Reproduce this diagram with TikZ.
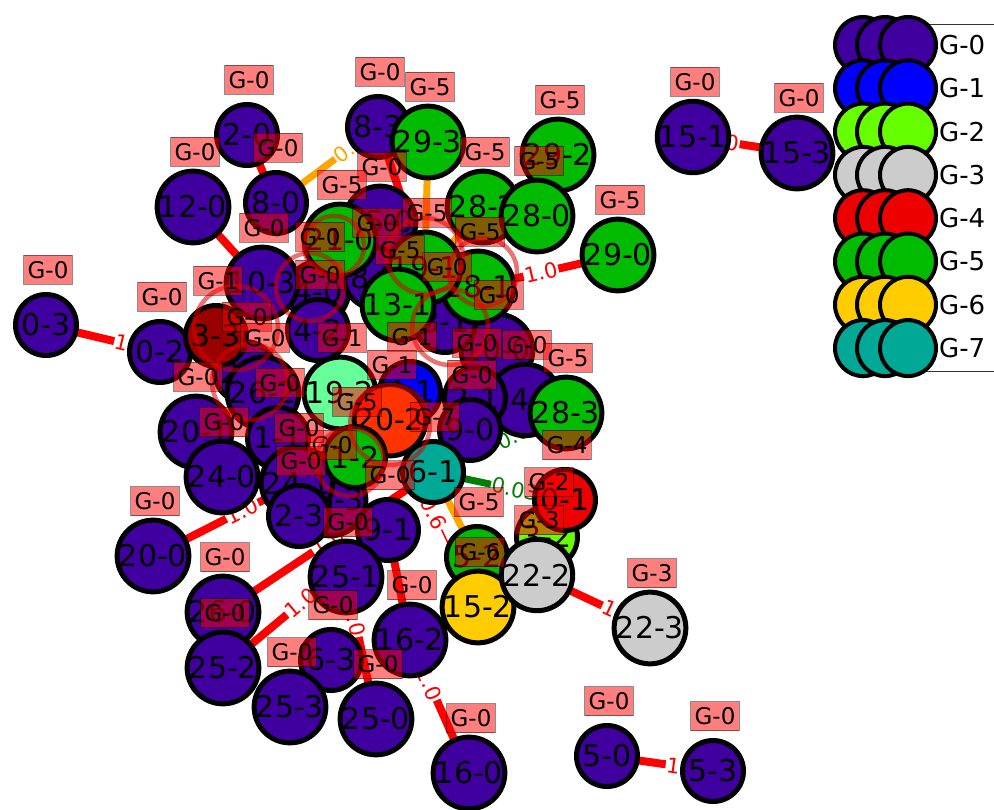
\documentclass[tikz,border=0pt]{standalone}
\usepackage{fontspec}
\setmainfont{DejaVu Sans}
\pgfdeclarelayer{edgelayer}
\pgfdeclarelayer{looplayer}
\pgfdeclarelayer{taglayer}
\pgfsetlayers{edgelayer,main,looplayer,taglayer}

\definecolor{gzero}{HTML}{4000A0}
\definecolor{gone}{HTML}{0000FF}
\definecolor{gtwo}{HTML}{66FF00}
\definecolor{gthree}{HTML}{CCCCCC}
\definecolor{gfour}{HTML}{EE0000}
\definecolor{gfive}{HTML}{00BB00}
\definecolor{gsix}{HTML}{FFCC00}
\definecolor{gseven}{HTML}{00A896}
\definecolor{dkred}{HTML}{990000}
\definecolor{lgreen}{HTML}{66FF99}
\definecolor{ored}{HTML}{FF3300}
\definecolor{eorange}{HTML}{FFA500}
\definecolor{egreen}{HTML}{008000}

\tikzset{
  gnode/.style={circle, draw=black, line width=5pt, minimum size=61pt,
    inner sep=0pt, font=\fontsize{30}{30}\selectfont},
  gtag/.style={fill=red, fill opacity=0.5, draw=black, draw opacity=0.45,
    line width=1pt, text opacity=1, inner xsep=4pt, inner ysep=0pt,
    minimum height=29pt, font=\fontsize{23}{23}\selectfont},
  redge/.style={draw=red, line width=8pt},
  thinedge/.style={draw=red, line width=1.5pt},
  oedge/.style={draw=eorange, line width=7pt},
  gedge/.style={draw=egreen, line width=7pt},
  elab/.style={fill=white, inner sep=1pt, sloped, font=\fontsize{21}{21}\selectfont},
  ring/.style={draw=red!85!black, draw opacity=0.55, line width=4.5pt},
  legmark/.style={fill=#1, draw=black, line width=4pt},
}

% name / x / y / fill / text / group
\def\nodelist{
  c0x/497/350/gzero/10-0/G-0,
  c241x/525/400/gzero/14-1/G-0,
  c22x/475/398/gzero/2-1/G-0,
  c90/470/430/gzero/9-0/G-0,
  c81/445/322/gzero/8-1/G-0,
  c281/478/287/gfive/28-1/G-5,
  c15/380/222/gzero/15-0/G-0,
  c4a/318/292/gzero/4-0/G-0,
  c4b/318/330/gzero/4-2/G-0,
  c82/375/278/gzero/8-2/G-0,
  c1g/340/240/gfive/21-0/G-5,
  c19g/425/268/gfive/19-1/G-5,
  c13/398/305/gfive/13-1/G-5,
  c103/262/283/gzero/10-3/G-0,
  n02/160/352/gzero/0-2/G-0,
  c2a/245/372/gzero/2-2/G-0,
  c33/216/336/dkred/3-3/G-1,
  c26a/263/393/gzero/26-2/G-0,
  c41/410/392/gone/4-1/G-1,
  c201/196/432/gzero/20-1/G-0,
  c11/278/438/gzero/1-1/G-0,
  c192/340/393/lgreen/19-2/G-1,
  c26r/390/420/ored/20-2/G-1,
  c26b/330/500/gzero/26-3/G-0,
  c241/297/483/gzero/24-1/G-0,
  c240/222/477/gzero/24-0/G-0,
  c21g/355/457/gfive/1-2/G-5,
  c61/433/472/gseven/6-1/G-7,
  c23/299/516/gzero/2-3/G-0,
  c91/388/530/gzero/9-1/G-0,
  c251/346/577/gzero/25-1/G-0,
  c162/410/640/gzero/16-2/G-0,
  c260/223/612/gzero/26-0/G-0,
  c252/223/668/gzero/25-2/G-0,
  c63/331/660/gzero/6-3/G-0,
  c253/290/707/gzero/25-3/G-0,
  c250/376/719/gzero/25-0/G-0,
  c160/469/773/gzero/16-0/G-0,
  c200/153/556/gzero/20-0/G-0,
  c52/477/557/gfive/5-2/G-5,
  c152/478/607/gsix/15-2/G-6,
  c32/547/537/gtwo/3-2/G-2,
  c222/537/575/gthree/22-2/G-3,
  c01/565/500/gfour/0-1/G-4,
  n283/566/413/gfive/28-3/G-5,
  n223/650/628/gthree/22-3/G-3,
  n50/607/756/gzero/5-0/G-0,
  n53/713/771/gzero/5-3/G-0,
  n151/693/137/gzero/15-1/G-0,
  n153/797/153/gzero/15-3/G-0,
  n290/618/255/gfive/29-0/G-5,
  n282/483/207/gfive/28-2/G-5,
  n292/558/155/gfive/29-2/G-5,
  n280/537/216/gfive/28-0/G-5,
  n83/378/127/gzero/8-3/G-0,
  n293/428/142/gfive/29-3/G-5,
  n80/276/203/gzero/8-0/G-0,
  n20/247/135/gzero/2-0/G-0,
  n120/193/207/gzero/12-0/G-0,
  n03/46/325/gzero/0-3/G-0%
}

\begin{document}
\begin{tikzpicture}[x=1pt,y=-1pt]
\useasboundingbox (0,0) rectangle (994,810);
\clip (0,0) rectangle (994,810);

% graph vertices
\foreach \n/\x/\y/\c/\t/\g in \nodelist {
  \node[gnode, fill=\c] (\n) at (\x,\y) {\t};
}

% weighted edges and their weights, beneath the vertices
\begin{pgfonlayer}{edgelayer}
  \draw[redge] (n03.center) -- node[elab, text=red, pos=.75] {1.0} (n02.center);
  \draw[redge] (n151.center) -- node[elab, text=red, pos=.28] {1.0} (n153.center);
  \draw[redge] (n50.center) -- node[elab, text=red, pos=.72] {1.0} (n53.center);
  \draw[redge] (c222.center) -- node[elab, text=red, pos=.72] {1.0} (n223.center);
  \draw[redge] (n290.center) -- node[elab, text=red, pos=.55] {1.0} (c281.center);
  \draw[redge] (c200.center) -- node[elab, text=red, pos=.62] {1.0} (c241.center);
  \draw[redge] (c260.center) -- node[elab, text=red, pos=.5] {1.0} (c61.center);
  \draw[redge] (c252.center) -- node[elab, text=red, pos=.47] {1.0} (c91.center);
  \draw[redge] (c250.center) -- node[elab, text=red, pos=.7] {1.0} (c251.center);
  \draw[redge] (c162.center) -- node[elab, text=red, pos=.33] {1.0} (c160.center);
  \draw[redge] (c162.center) -- (c91.center);
  \draw[redge] (n20.center) -- (n80.center);
  \draw[redge] (n120.center) -- (c103.center);
  \draw[redge] (n83.center) -- (c19g.center);
  \draw[redge] (n02.center) -- (c33.center);
  \draw[oedge] (n80.center) -- node[elab, text=eorange, pos=.72] {0.5} (n83.center);
  \draw[oedge] (n293.center) -- (c19g.center);
  \draw[oedge] (n282.center) -- (c13.center);
  \draw[oedge] (c61.center) -- (c52.center);
  \draw[gedge] (c61.center) -- node[elab, text=egreen, pos=.65] {0.03} (n283.center);
  \draw[gedge] (c61.center) -- node[elab, text=egreen, pos=.62] {0.03} (c01.center);
  \draw[thinedge] (c26r.center) -- node[elab, text=red, pos=.5] {0.6} (c152.center);
\end{pgfonlayer}

% self-loops in the dense core
\begin{pgfonlayer}{looplayer}
  \draw[ring] ([shift={(20,-8)}]c33.center) circle (42);
  \draw[ring] ([shift={(5,10)}]c2a.center) circle (38);
  \draw[ring] ([shift={(-8,-5)}]c4a.center) circle (34);
  \draw[ring] ([shift={(0,-12)}]c19g.center) circle (38);
  \draw[ring] ([shift={(5,-15)}]c281.center) circle (34);
  \draw[ring] ([shift={(0,5)}]c26r.center) circle (40);
  \draw[ring] ([shift={(-5,5)}]c21g.center) circle (34);
  \draw[ring] ([shift={(5,5)}]c81.center) circle (38);
  \draw[ring] ([shift={(-6,6)}]c1g.center) circle (30);
\end{pgfonlayer}

% group tags above every vertex
\begin{pgfonlayer}{taglayer}
  \foreach \n/\x/\y/\c/\t/\g in \nodelist {
    \node[gtag] at ([shift={(2,-55)}]\n.center) {\g};
  }
\end{pgfonlayer}

% legend
\draw[black!80, line width=1pt, fill=white] (845,25) rectangle (1000,372);
\foreach \c [count=\i from 0] in {gzero,gone,gtwo,gthree,gfour,gfive,gsix,gseven} {
  \pgfmathsetmacro{\ly}{45+43.3*\i}
  \draw[legmark=\c] (863,\ly) circle (28);
  \draw[legmark=\c] (885,\ly) circle (28);
  \draw[legmark=\c] (908,\ly) circle (28);
  \node[anchor=west, inner sep=0pt, font=\fontsize{26}{26}\selectfont] (leg\i) at (939,\ly) {G-\i};
}
\end{tikzpicture}
\end{document}
